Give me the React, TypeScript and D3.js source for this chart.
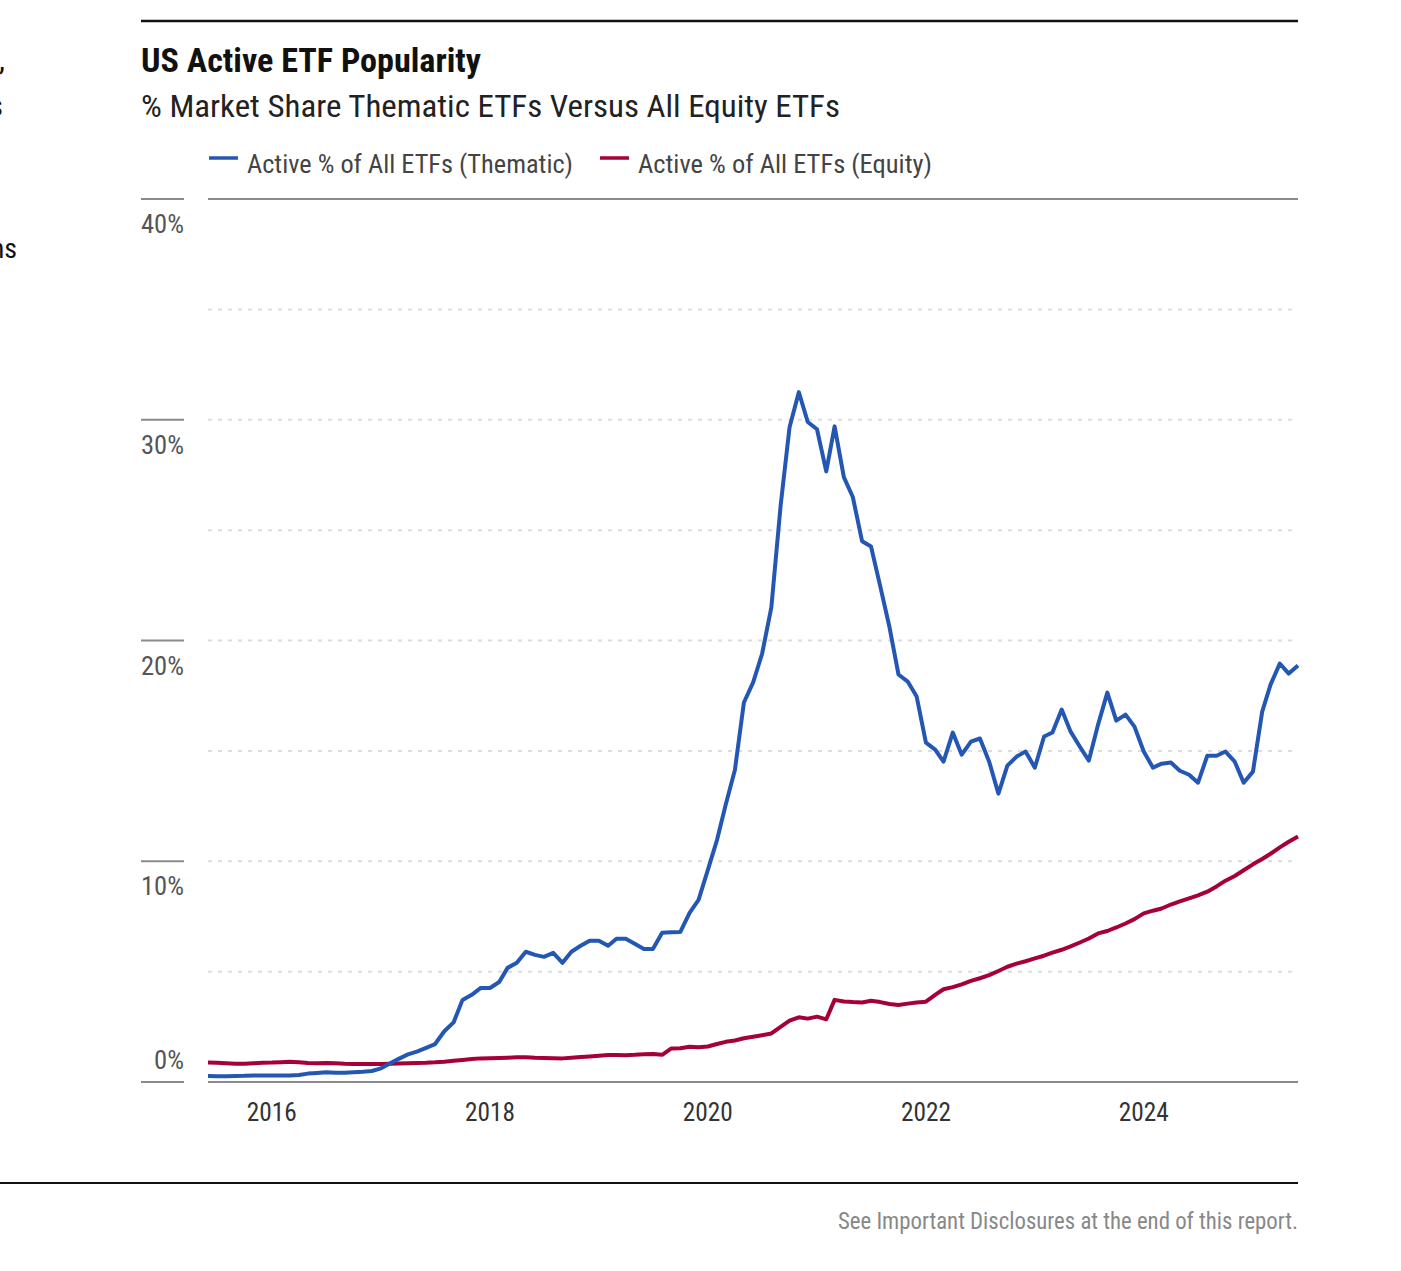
import React from "react";
import * as d3 from "d3";

const START_YEAR = 2015;
const START_MONTH = 5; // June 2015

const thematic: number[] = [
  0.27, 0.26, 0.26, 0.27, 0.28, 0.3, 0.3, 0.3, 0.3, 0.3,
  0.32, 0.38, 0.41, 0.44, 0.42, 0.42, 0.44, 0.46, 0.5, 0.62,
  0.85, 1.05, 1.25, 1.38, 1.55, 1.72, 2.3, 2.7, 3.72, 3.95,
  4.26, 4.26, 4.53, 5.17, 5.4, 5.9, 5.76, 5.67, 5.85, 5.4,
  5.9, 6.17, 6.4, 6.4, 6.17, 6.49, 6.49, 6.26, 6.03, 6.03,
  6.76, 6.78, 6.8, 7.66, 8.25, 9.6, 10.97, 12.56, 14.15, 17.19,
  18.1, 19.4, 21.5, 26.1, 29.66, 31.25, 29.9, 29.57, 27.66, 29.7,
  27.4, 26.5, 24.5, 24.26, 22.45, 20.6, 18.46, 18.14, 17.46, 15.37,
  15.06, 14.51, 15.83, 14.83, 15.42, 15.56, 14.51, 13.06, 14.33, 14.74,
  14.97, 14.24, 15.65, 15.83, 16.87, 15.87, 15.19, 14.56, 16.19, 17.64,
  16.37, 16.64, 16.1, 14.97, 14.24, 14.42, 14.47, 14.1, 13.92, 13.56,
  14.78, 14.78, 14.97, 14.51, 13.56, 14.06, 16.78, 18.0, 18.96, 18.5,
  18.87,
];

const equity: number[] = [
  0.88, 0.87, 0.85, 0.83, 0.83, 0.85, 0.87, 0.88, 0.9, 0.92,
  0.89, 0.86, 0.85, 0.86, 0.85, 0.83, 0.82, 0.82, 0.82, 0.82,
  0.83, 0.84, 0.85, 0.86, 0.87, 0.89, 0.92, 0.96, 1.0, 1.04,
  1.07, 1.08, 1.09, 1.1, 1.12, 1.12, 1.1, 1.09, 1.08, 1.07,
  1.1, 1.13, 1.16, 1.19, 1.22, 1.22, 1.21, 1.23, 1.26, 1.27,
  1.23, 1.52, 1.53, 1.6, 1.57, 1.61, 1.72, 1.82, 1.88, 1.98,
  2.05, 2.12, 2.2, 2.5, 2.78, 2.93, 2.87, 2.96, 2.84, 3.72,
  3.65, 3.62, 3.6, 3.68, 3.62, 3.53, 3.49, 3.55, 3.6, 3.64,
  3.95, 4.2, 4.3, 4.42, 4.58, 4.7, 4.84, 5.03, 5.22, 5.36,
  5.47, 5.6, 5.72, 5.86, 5.99, 6.14, 6.32, 6.5, 6.73, 6.84,
  7.0, 7.18, 7.38, 7.64, 7.76, 7.86, 8.04, 8.18, 8.32, 8.45,
  8.62, 8.86, 9.12, 9.33, 9.59, 9.86, 10.1, 10.34, 10.63, 10.88,
  11.12,
];

const seriesNames = ["Active % of All ETFs (Thematic)", "Active % of All ETFs (Equity)"];
const seriesColors = ["#2457b3", "#a6003a"];
const yTicks = [0, 10, 20, 30, 40];
const yGrid = [5, 10, 15, 20, 25, 30, 35];
const title = "US Active ETF Popularity";
const subtitle = "% Market Share Thematic ETFs Versus All Equity ETFs";
const footer = "See Important Disclosures at the end of this report.";

const FONT = "'Liberation Sans Narrow', 'Roboto Condensed', 'DejaVu Sans Condensed', Roboto, sans-serif";

const dates = thematic.map((_, i) => new Date(START_YEAR, START_MONTH + i, 1));

export default function App() {
  const W = 1401;
  const H = 1271;
  const plotL = 208;
  const plotR = 1298;
  const x = d3.scaleTime().domain([dates[0], dates[dates.length - 1]]).range([plotL, plotR]);
  const y = d3.scaleLinear().domain([0, 40]).range([1082, 199]);
  const line = d3
    .line<number>()
    .x((_, i) => x(dates[i]))
    .y((v) => y(v))
    .curve(d3.curveLinear);
  const xTicks = x.ticks(d3.timeYear.every(2) as any).filter((d) => d.getFullYear() >= 2016);

  return (
    <svg
      width={W}
      height={H}
      style={{ position: "absolute", left: 0, top: 0, background: "#fff" }}
      fontFamily={FONT}
    >
      {/* cut-off fragments from neighbouring column (cut off in the reference too) */}
      <text x={5} y={70} fontSize={30} textAnchor="end" fill="#111">returns,</text>
      <text x={3} y={116} fontSize={30} textAnchor="end" fill="#111">ETFs</text>
      <text x={17} y={258} fontSize={28} textAnchor="end" fill="#111">returns</text>

      {/* top rule */}
      <line x1={141} x2={1298} y1={21} y2={21} stroke="#111" strokeWidth={2.5} />

      <text x={141} y={72} fontSize={34} fontWeight="bold" fill="#111" textLength={340} lengthAdjust="spacingAndGlyphs">
        {title}
      </text>
      <text x={141} y={117} fontSize={31} fill="#222" textLength={699} lengthAdjust="spacingAndGlyphs">
        {subtitle}
      </text>

      {/* legend */}
      <line x1={209} x2={238} y1={158} y2={158} stroke={seriesColors[0]} strokeWidth={3.5} />
      <text x={247} y={173} fontSize={26} fill="#444" textLength={326} lengthAdjust="spacingAndGlyphs">
        {seriesNames[0]}
      </text>
      <line x1={600} x2={629} y1={158} y2={158} stroke={seriesColors[1]} strokeWidth={3.5} />
      <text x={638} y={173} fontSize={26} fill="#444" textLength={294} lengthAdjust="spacingAndGlyphs">
        {seriesNames[1]}
      </text>

      {/* grid */}
      {yGrid.map((g) => (
        <line key={g} x1={plotL} x2={plotR} y1={y(g)} y2={y(g)} stroke="#dcdcdc" strokeWidth={2} strokeDasharray="4 6" />
      ))}
      <line x1={plotL} x2={plotR} y1={y(40)} y2={y(40)} stroke="#8a8a8a" strokeWidth={2} />
      <line x1={plotL} x2={plotR} y1={y(0)} y2={y(0)} stroke="#8a8a8a" strokeWidth={2} />

      {/* y ticks and labels */}
      {yTicks.map((t) => (
        <g key={t}>
          <line x1={141} x2={184} y1={y(t)} y2={y(t)} stroke="#8a8a8a" strokeWidth={2} />
          <text
            x={184}
            y={t === 0 ? y(t) - 13 : y(t) + 34}
            fontSize={25}
            fill="#555"
            textAnchor="end"
            textLength={t === 0 ? 30 : 43}
            lengthAdjust="spacingAndGlyphs"
          >
            {`${t}%`}
          </text>
        </g>
      ))}

      {/* x labels */}
      {xTicks.map((d) => (
        <text
          key={d.getFullYear()}
          x={x(d)}
          y={1121}
          fontSize={25}
          fill="#333"
          textAnchor="middle"
          textLength={50}
          lengthAdjust="spacingAndGlyphs"
        >
          {d.getFullYear()}
        </text>
      ))}

      {/* series */}
      <path d={line(equity) || ""} fill="none" stroke={seriesColors[1]} strokeWidth={4} strokeLinejoin="round" />
      <path d={line(thematic) || ""} fill="none" stroke={seriesColors[0]} strokeWidth={4} strokeLinejoin="round" />

      {/* bottom rule and footer */}
      <line x1={0} x2={1298} y1={1183} y2={1183} stroke="#111" strokeWidth={2} />
      <text x={1298} y={1229} fontSize={23} fill="#888" textAnchor="end" textLength={460} lengthAdjust="spacingAndGlyphs">
        {footer}
      </text>
    </svg>
  );
}
